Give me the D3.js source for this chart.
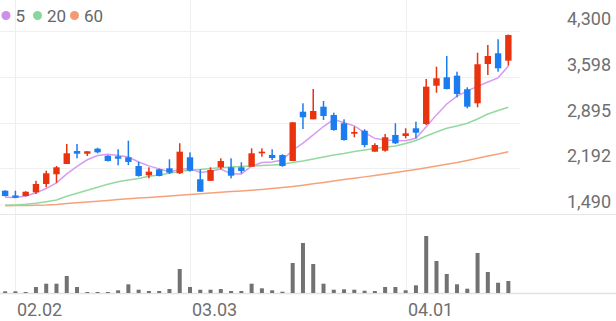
<!DOCTYPE html>
<html><head><meta charset="utf-8">
<script src="https://cdn.jsdelivr.net/npm/d3@7"></script>
<style>body{margin:0;background:#fff}svg{display:block}text{font-family:Roboto,"Noto Sans",sans-serif}</style>
</head><body><svg id="c" width="616" height="321"></svg>
<script>
const dates=['01.30','02.02','02.03','02.04','02.05','02.06','02.09','02.10','02.11','02.12','02.13','02.19','02.20','02.23','02.24','02.25','02.26','02.27','03.03','03.04','03.05','03.06','03.09','03.10','03.11','03.12','03.13','03.16','03.17','03.18','03.19','03.20','03.23','03.24','03.25','03.26','03.27','03.30','03.31','04.01','04.02','04.03','04.06','04.07','04.08','04.09','04.10','04.13','04.14','04.15'];
const open=[1848,1775,1766,1823,1951,2100,2258,2457,2416,2493,2385,2376,2361,2227,2084,2176,2192,2115,2361,2023,1999,2207,2207,2207,2216,2422,2396,2396,2304,3061,2944,3138,3010,2883,2723,2769,2447,2462,2703,2688,2806,2872,3460,3589,3614,3405,3190,3793,3958,3844];
const high=[1855,1848,1840,1999,2155,2227,2565,2565,2453,2508,2392,2484,2616,2293,2207,2186,2330,2576,2437,2176,2207,2345,2345,2284,2499,2499,2484,2407,2898,3190,3409,3225,3046,2944,2831,2791,2576,2718,2883,2806,2907,3563,3752,3916,3675,3435,3967,4085,4173,4245];
const low=[1760,1735,1760,1797,1900,1971,2258,2345,2381,2422,2296,2238,2242,2063,2038,2069,2104,2104,2140,1832,1999,2176,2038,2115,2216,2370,2319,2216,2304,2795,2944,2933,2769,2616,2668,2514,2447,2447,2565,2653,2653,2857,3353,3404,3282,3113,3128,3624,3675,3767];
const close=[1766,1740,1832,1951,2115,2207,2422,2416,2453,2437,2304,2339,2289,2074,2140,2074,2124,2447,2155,1832,2166,2304,2078,2150,2422,2447,2350,2227,2898,2975,3072,2995,2780,2626,2749,2549,2549,2668,2576,2729,2738,3445,3574,3409,3333,3138,3789,3916,3727,4239];
const volume=[85,85,50,300,465,465,850,300,50,50,50,135,435,165,100,100,200,1200,300,165,165,200,100,100,465,235,135,65,1500,2500,1450,465,165,185,165,115,100,300,300,135,385,2850,1600,950,435,215,2000,1050,515,600];
const ma5=[1746,1742,1765,1815,1881,1969,2105,2222,2323,2387,2406,2390,2364,2289,2229,2183,2140,2172,2188,2126,2145,2181,2107,2106,2224,2280,2289,2319,2469,2579,2704,2833,2944,2890,2844,2740,2651,2628,2618,2614,2652,2831,3012,3179,3300,3380,3449,3517,3581,3762];
const ma20=[1628,1630,1639,1656,1679,1705,1762,1808,1854,1900,1946,1986,2012,2035,2069,2089,2115,2143,2163,2173,2189,2201,2212,2219,2227,2235,2242,2253,2281,2304,2335,2365,2396,2419,2450,2473,2496,2514,2534,2573,2619,2688,2749,2806,2841,2883,2949,3026,3079,3128];
const ma60=[1617,1619,1622,1625,1628,1637,1650,1662,1674,1687,1699,1711,1723,1734,1745,1756,1766,1779,1789,1802,1812,1823,1834,1843,1854,1868,1883,1897,1912,1932,1954,1975,1997,2018,2038,2060,2081,2104,2127,2150,2173,2199,2227,2253,2281,2313,2345,2379,2411,2447];
const yTickValues=[1490,2192.5,2895,3597.5,4300];
const yTickLabels=['1,490','2,192','2,895','3,598','4,300'];
const xTickLabels=['02.02','03.03','04.01'];
const maNames=['5','20','60'];

const upColor='#e8330e', downColor='#1b7cf0';
const maColors=['#d79bf0','#94d9a0','#f5a27c'];
const dotColors=['#cf8eea','#8ad69a','#f49a72'];

const svg=d3.select('#c');
const W=616;
const x=d3.scaleBand().domain(dates).range([0,513.5]);
const bw=x.bandwidth();
const cx=d=>x(d)+bw/2;
const y=d3.scaleLinear().domain([1490,4300]).range([214,31]);
const yv=d3.scaleLinear().domain([0,d3.max(volume)]).range([293,236]);

// grid
const g=svg.append('g');
g.selectAll('.vg').data(xTickLabels).join('line')
  .attr('x1',d=>Math.round(cx(d))+0.5).attr('x2',d=>Math.round(cx(d))+0.5)
  .attr('y1',0).attr('y2',293).attr('stroke','#eeeeee').attr('stroke-width',1);
g.selectAll('.hg').data(yTickValues.slice(1)).join('line')
  .attr('x1',0).attr('x2',520)
  .attr('y1',d=>Math.round(y(d))+0.5).attr('y2',d=>Math.round(y(d))+0.5)
  .attr('stroke','#f0f0f0');
g.append('line').attr('x1',0).attr('x2',W).attr('y1',y(1490)+0.5).attr('y2',y(1490)+0.5).attr('stroke','#e6e6e6');
g.append('line').attr('x1',0).attr('x2',W).attr('y1',293.5).attr('y2',293.5).attr('stroke','#e2e2e2').attr('stroke-width',1.5);

// MA lines
[ma60,ma20,ma5].forEach((arr,k)=>{
  const ci=2-k;
  svg.append('path').datum(arr)
    .attr('fill','none').attr('stroke',maColors[ci]).attr('stroke-width',1.5)
    .attr('d',d3.line().x((v,i)=>cx(dates[i])).y(v=>y(v)));
});

// candles
const cg=svg.append('g');
const idx=d3.range(dates.length);
const col=i=>close[i]>=open[i]?upColor:downColor;
cg.selectAll('.wick').data(idx).join('rect')
  .attr('x',i=>cx(dates[i])-0.75).attr('width',1.5)
  .attr('y',i=>y(high[i])).attr('height',i=>Math.max(0.5,y(low[i])-y(high[i])))
  .attr('fill',col);
cg.selectAll('.body').data(idx).join('rect')
  .attr('x',i=>cx(dates[i])-3.2).attr('width',6.4)
  .attr('y',i=>y(Math.max(open[i],close[i])))
  .attr('height',i=>Math.max(1.5,Math.abs(y(open[i])-y(close[i]))))
  .attr('fill',col);

// volume
svg.append('g').selectAll('rect').data(idx).join('rect')
  .attr('x',i=>cx(dates[i])-2).attr('width',4)
  .attr('y',i=>yv(volume[i])).attr('height',i=>Math.max(1,293-yv(volume[i])))
  .attr('fill','#727272');

// y labels
svg.append('g').selectAll('text').data(yTickValues).join('text')
  .attr('x',611).attr('y',d=>y(d)-6).attr('text-anchor','end')
  .attr('font-size',18).attr('fill','#6f6f6f').text((d,i)=>yTickLabels[i]);

// x labels
svg.append('g').selectAll('text').data(xTickLabels).join('text')
  .attr('x',d=>Math.round(cx(d))+2).attr('y',316)
  .attr('font-size',18).attr('fill','#6f6f6f').text(d=>d);

// legend
const lx=[6,37.5,74.5];
const leg=svg.append('g');
maNames.forEach((n,i)=>{
  leg.append('circle').attr('cx',lx[i]).attr('cy',15.5).attr('r',4.5).attr('fill',dotColors[i]);
  leg.append('text').attr('x',lx[i]+9.5).attr('y',22).attr('font-size',17).attr('fill','#666').text(n);
});
</script></body></html>
